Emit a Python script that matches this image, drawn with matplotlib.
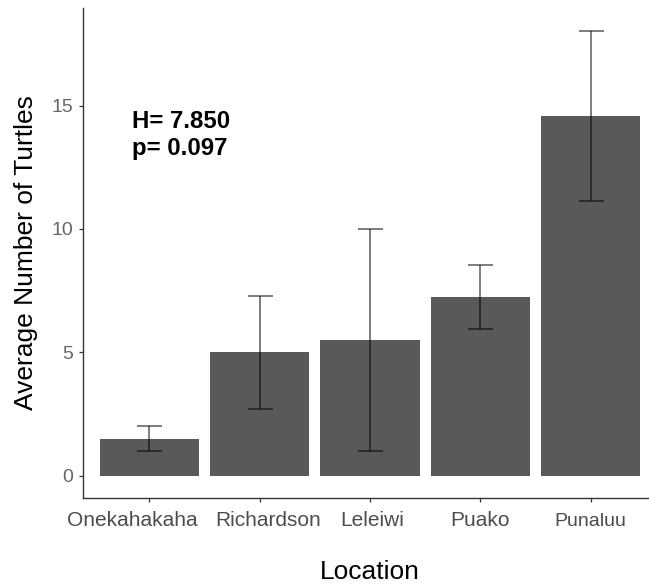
import matplotlib
matplotlib.use('Agg')
import matplotlib.pyplot as plt
import matplotlib.transforms as mtransforms
import numpy as np

plt.rcParams['font.family'] = ['Liberation Sans', 'DejaVu Sans']

locations = ['Onekahakaha', 'Richardson', 'Leleiwi', 'Puako', 'Punaluu']
mean_turtles = [1.5, 5.0, 5.5, 7.25, 14.57]
err_turtles = [0.5, 2.3, 4.5, 1.3, 3.45]
stat_label = 'H= 7.850\np= 0.097'

fig = plt.figure(figsize=(6.49, 5.86), dpi=100)
ax = fig.add_axes([83/649, 88/586, 574/649, 490/586])

x = np.arange(1, len(locations) + 1)
ax.bar(x, mean_turtles, width=0.9, color='#595959', zorder=2)
ax.errorbar(x, mean_turtles, yerr=err_turtles, fmt='none', ecolor='black',
            elinewidth=1.3, capsize=9, capthick=1.3, alpha=0.55, zorder=3)

ax.set_xlim(0.4, 5.6)
ax.set_ylim(-0.9, 18.95)
ax.set_xticks(x)
ax.set_xticklabels(locations)
ax.set_yticks([0, 5, 10, 15])

for s in ['top', 'right']:
    ax.spines[s].set_visible(False)
for s in ['left', 'bottom']:
    ax.spines[s].set_color('#333333')
    ax.spines[s].set_linewidth(1.0)

ax.tick_params(axis='x', labelsize=15, colors='#333333', labelcolor='#4d4d4d',
               length=3, width=0.9, pad=6)
ax.tick_params(axis='y', labelsize=14, colors='#333333', labelcolor='#666666',
               length=3, width=0.9, pad=4)

# labels in the original are nudged a bit off their ticks
shifts = [(-17, 0), (9, 0), (2, 0), (0, 0), (0, -3)]
for lab, (dx, dy) in zip(ax.get_xticklabels(), shifts):
    lab.set_transform(lab.get_transform() + mtransforms.ScaledTranslation(dx/100, dy/100, fig.dpi_scale_trans))
ax.get_xticklabels()[-1].set_fontsize(14)

ax.set_xlabel('Location', fontsize=19, labelpad=21)
ax.set_ylabel('Average Number of Turtles', fontsize=19, labelpad=10)

ax.text(0.845, 14.8, stat_label, fontsize=17.3, fontweight='bold',
        ha='left', va='top', linespacing=1.2)

fig.savefig('out.png', dpi=100, facecolor='white')
